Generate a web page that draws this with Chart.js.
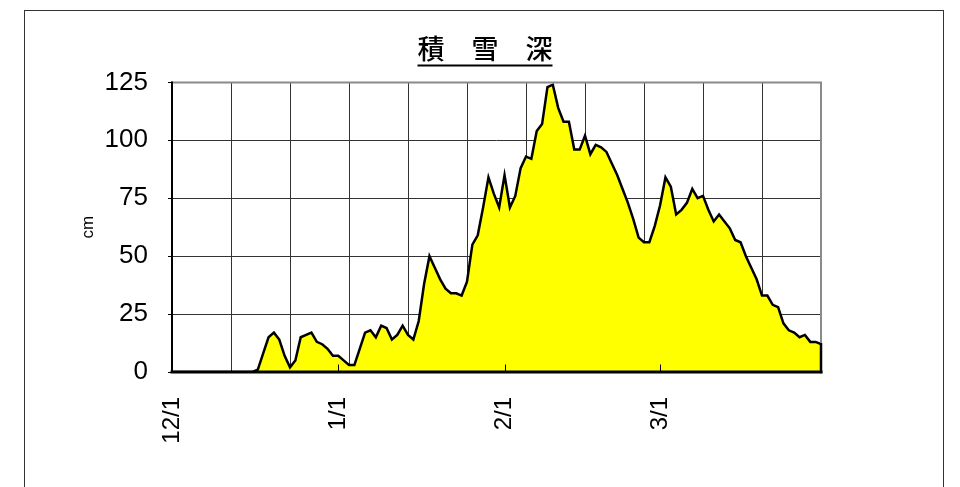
<!DOCTYPE html>
<html lang="ja">
<head>
<meta charset="utf-8">
<title>積雪深</title>
<script src="https://cdn.jsdelivr.net/npm/chart.js@4/dist/chart.umd.min.js"></script>
<style>
  html, body { margin: 0; padding: 0; background: #fff; }
  #wrap { position: relative; width: 960px; height: 487px; overflow: hidden; }
  #snowChart { position: absolute; left: 0; top: 0; }
  #frame { position: absolute; left: 24px; top: 10px; width: 918px; height: 520px; border: 1px solid #333; pointer-events: none; }
</style>
</head>
<body>
<div id="wrap">
  <canvas id="snowChart" width="960" height="487"></canvas>
  <div id="frame"></div>
</div>
<script>
// daily snow depth (cm), 12/1 .. 3/31 (Feb has 29 days)
const monthLabels = ["12/1", "1/1", "2/1", "3/1"];
const monthStartDay = [0, 31, 62, 91];
const yTicks = [0, 25, 50, 75, 100, 125];

const snowDepth = [
  0, 0, 0, 0, 0, 0, 0, 0, 0, 0, 0, 0, 0, 0, 0, 0,
  1, 8, 15, 17, 14, 7, 2, 5, 15, 16, 17, 13, 12, 10, 7,
  7, 5, 3, 3, 10, 17, 18, 15, 20, 19, 14, 16, 20, 16, 14, 22, 38, 50, 45, 40,
  36, 34, 34, 33, 39, 55, 59, 71, 84, 77, 71,
  85, 71, 76, 88, 93, 92, 104, 107, 123, 124, 114, 108, 108, 96, 96, 102,
  94, 98, 97, 95, 90, 85, 79, 73, 66, 58, 56, 56, 63,
  72, 84, 80, 68, 70, 73, 79, 75, 76, 70, 65, 68, 65, 62, 57, 56, 50,
  45, 40, 33, 33, 29, 28, 21, 18, 17, 15, 16, 13, 13, 12,
];

const LAST_DAY = snowDepth.length - 1;
const TITLE_PAD_TOP = 23;

const titleUnderline = {
  id: "titleUnderline",
  afterDraw(chart) {
    const block = chart.titleBlock;
    const font = Chart.helpers.toFont(block.options.font);
    const ctx = chart.ctx;
    ctx.save();
    ctx.font = font.string;
    const width = ctx.measureText(block.options.text).width;
    const center = (block.left + block.right) / 2;
    const y = block.top + TITLE_PAD_TOP + font.lineHeight / 2 + font.size * 0.6;
    ctx.strokeStyle = "#000";
    ctx.lineWidth = 2;
    ctx.beginPath();
    ctx.moveTo(center - width / 2, y);
    ctx.lineTo(center + width / 2, y);
    ctx.stroke();
    ctx.restore();
  },
};

const plotFrame = {
  id: "plotFrame",
  afterDatasetsDraw(chart) {
    const { ctx, chartArea, scales } = chart;
    ctx.save();
    ctx.lineCap = "square";

    ctx.strokeStyle = "#8a8a8a";
    ctx.lineWidth = 2;
    ctx.beginPath();
    ctx.moveTo(chartArea.left, chartArea.top);
    ctx.lineTo(chartArea.right, chartArea.top);
    ctx.lineTo(chartArea.right, chartArea.bottom);
    ctx.stroke();

    // area edge at the last day
    const points = chart.getDatasetMeta(0).data;
    const last = points[points.length - 1];
    ctx.strokeStyle = "#000";
    ctx.lineWidth = 2.5;
    ctx.beginPath();
    ctx.moveTo(last.x, last.y);
    ctx.lineTo(last.x, chartArea.bottom);
    ctx.stroke();

    ctx.lineWidth = 2;
    ctx.beginPath();
    ctx.moveTo(chartArea.left, chartArea.top);
    ctx.lineTo(chartArea.left, chartArea.bottom);
    ctx.stroke();
    ctx.lineWidth = 3;
    ctx.beginPath();
    ctx.moveTo(chartArea.left, chartArea.bottom);
    ctx.lineTo(chartArea.right, chartArea.bottom);
    ctx.stroke();

    ctx.lineWidth = 1;
    monthStartDay.forEach((day) => {
      const x = Math.round(scales.x.getPixelForValue(day)) + 0.5;
      ctx.beginPath();
      ctx.moveTo(x, chartArea.bottom);
      ctx.lineTo(x, chartArea.bottom - 7);
      ctx.stroke();
    });
    ctx.restore();
  },
};

new Chart(document.getElementById("snowChart"), {
  type: "line",
  data: {
    datasets: [
      {
        label: "積雪深",
        data: snowDepth.map((value, day) => ({ x: day, y: value })),
        borderColor: "#000",
        borderWidth: 2.5,
        backgroundColor: "#ffff00",
        fill: "origin",
        tension: 0,
        pointRadius: 0,
      },
    ],
  },
  options: {
    responsive: false,
    animation: false,
    layout: { padding: { top: 10, left: 34, right: 24, bottom: 0 } },
    plugins: {
      legend: { display: false },
      tooltip: { enabled: false },
      title: {
        display: true,
        text: "積　雪　深",
        color: "#000",
        font: { family: "'Noto Sans CJK JP', sans-serif", size: 27, weight: "500", lineHeight: 1.2 },
        padding: { top: TITLE_PAD_TOP, bottom: 17 },
      },
    },
    scales: {
      x: {
        type: "linear",
        position: "bottom",
        min: 0,
        max: LAST_DAY,
        ticks: { display: false, stepSize: 11 },
        grid: { color: "#333", lineWidth: 1, drawTicks: false },
        border: { display: false },
        afterFit: (scale) => { scale.height = 0; },
      },
      months: {
        type: "linear",
        position: "bottom",
        min: 0,
        max: LAST_DAY,
        afterBuildTicks: (scale) => { scale.ticks = monthStartDay.map((day) => ({ value: day })); },
        ticks: {
          autoSkip: false,
          minRotation: 90,
          maxRotation: 90,
          padding: 25,
          color: "#000",
          font: { family: "'Liberation Sans', Arial, sans-serif", size: 24 },
          callback: (value) => monthLabels[monthStartDay.indexOf(value)],
        },
        grid: { display: false, drawTicks: false },
        border: { display: false },
        afterFit: (scale) => { scale.height = 115; },
      },
      y: {
        position: "left",
        min: 0,
        max: 125,
        afterBuildTicks: (scale) => { scale.ticks = yTicks.map((v) => ({ value: v })); },
        ticks: {
          padding: 20,
          color: "#000",
          font: { family: "'Liberation Sans Narrow', 'Liberation Sans', sans-serif", size: 26 },
        },
        grid: { color: "#333", lineWidth: 1, tickLength: 4, tickColor: "#000" },
        border: { display: false },
        title: {
          display: true,
          text: "cm",
          color: "#000",
          font: { family: "'Liberation Sans', Arial, sans-serif", size: 17 },
          padding: { top: 44, bottom: 0 },
        },
        afterFit: (scale) => { scale.width = 138; },
      },
      spacer: {
        position: "right",
        display: true,
        ticks: { display: false },
        grid: { display: false },
        border: { display: false },
        afterFit: (scale) => { scale.width = 115; },
      },
    },
  },
  plugins: [titleUnderline, plotFrame],
});
</script>
</body>
</html>
